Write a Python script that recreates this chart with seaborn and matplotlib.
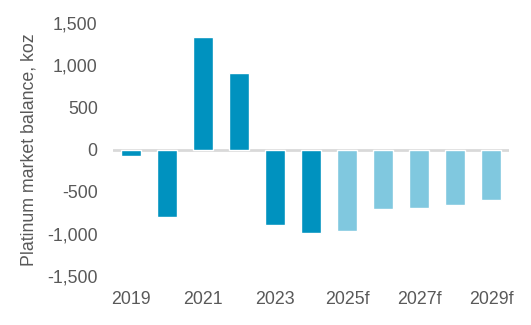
import matplotlib
matplotlib.use("Agg")
import matplotlib.pyplot as plt
import seaborn as sns
import pandas as pd

years = ["2019", "2020", "2021", "2022", "2023", "2024",
         "2025f", "2026f", "2027f", "2028f", "2029f"]
balance = [-80, -795, 1340, 910, -893, -987, -960, -706, -694, -659, -600]
kind = ["Actual"] * 6 + ["Forecast"] * 5
palette = {"Actual": "#0092BF", "Forecast": "#80C8DF"}
yticks = [-1500, -1000, -500, 0, 500, 1000, 1500]
shown_xlabels = ["2019", "2021", "2023", "2025f", "2027f", "2029f"]

df = pd.DataFrame({"year": years, "balance": balance, "kind": kind})

sns.set_style("white")
plt.rcParams["font.family"] = ["Liberation Sans", "DejaVu Sans"]

fig = plt.figure(figsize=(5.31, 3.25), dpi=100)
ax = fig.add_axes([0.2128, 0.1508, 0.9586 - 0.2128, 0.9283 - 0.1508])

sns.barplot(data=df, x="year", y="balance", hue="kind", palette=palette,
            dodge=False, width=0.556, legend=False, ax=ax, saturation=1)

ax.axhline(0, color="#D9D9D9", linewidth=2, zorder=0.5)
ax.set_xlim(-0.5, len(years) - 0.5)
ax.set_ylim(-1500, 1500)
ax.set_yticks(yticks)
ax.set_yticklabels([f"{v:,}" for v in yticks])
ax.set_xticks(range(len(years)))
ax.set_xticklabels([y if y in shown_xlabels else "" for y in years])

for s in ax.spines.values():
    s.set_visible(False)
ax.tick_params(axis="both", length=0, labelsize=12.8, colors="#595959")
ax.tick_params(axis="y", pad=11)
ax.tick_params(axis="x", pad=11)
ax.set_xlabel("")
ax.set_ylabel("Platinum market balance, koz", fontsize=12.8, color="#595959", labelpad=7)

fig.savefig("out.png", dpi=100)
